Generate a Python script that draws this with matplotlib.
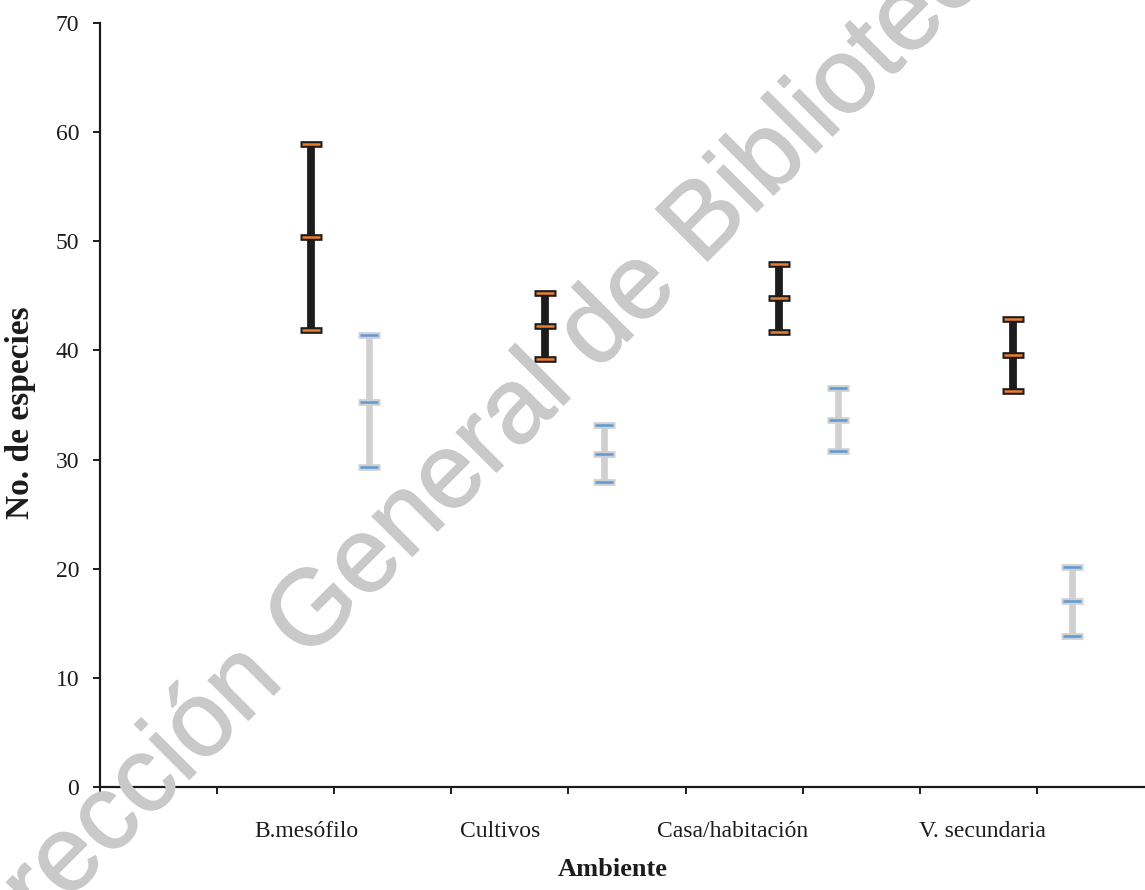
import matplotlib

matplotlib.use("Agg")
import matplotlib.pyplot as plt
import matplotlib.transforms as mtransforms
import matplotlib.patheffects as pe

# category labels and where the chart places them on the x axis (slot units)
CATEGORIES = ["B.mesófilo", "Cultivos", "Casa/habitación", "V. secundaria"]
LABEL_X = [1.76, 3.42, 5.40, 7.54]

# series 1 (black/orange) and series 2 (gray/blue): mean, low, high
BLACK_X = [1.80, 3.80, 5.80, 7.80]
BLACK_MID = [50.4, 42.2, 44.8, 39.6]
BLACK_LOW = [41.9, 39.2, 41.7, 36.3]
BLACK_HIGH = [58.9, 45.3, 47.9, 42.9]

GRAY_X = [2.30, 4.30, 6.30, 8.30]
GRAY_MID = [35.3, 30.5, 33.6, 17.0]
GRAY_LOW = [29.3, 27.9, 30.8, 13.8]
GRAY_HIGH = [41.4, 33.2, 36.6, 20.2]

SERIF = ["Liberation Serif", "DejaVu Serif"]
INK = "#1c1c1c"
ORANGE = "#ed7d31"
BLUE = "#5b9bd5"
LIGHT = "#d0d0d0"


def draw_series(ax, xs, lo, mid, hi, bar_color, cap_color, line_color, bar_w):
    ax.vlines(xs, lo, hi, colors=bar_color, linewidth=bar_w, zorder=3,
              capstyle="butt")
    for vals in (lo, mid, hi):
        ax.plot(xs, vals, linestyle="none", marker="_", markersize=15.5,
                markeredgewidth=4.8, color=cap_color, zorder=4)
        ax.plot(xs, vals, linestyle="none", marker="_", markersize=12.5,
                markeredgewidth=1.8, color=line_color, zorder=5)


fig = plt.figure(figsize=(11.45, 8.9), dpi=100)
ax = fig.add_axes([100 / 1145, 1 - 787 / 890, 1045 / 1145, 764 / 890])

draw_series(ax, BLACK_X, BLACK_LOW, BLACK_MID, BLACK_HIGH, INK, INK, ORANGE, 5.6)
draw_series(ax, GRAY_X, GRAY_LOW, GRAY_MID, GRAY_HIGH, LIGHT, LIGHT, BLUE, 4.8)

ax.set_xlim(0, 1045 / 117.1)
ax.set_ylim(0, 70)
ax.set_yticks(range(0, 71, 10))
ax.set_xticks(range(0, 9))
ax.set_xticklabels([])
for s in ("top", "right"):
    ax.spines[s].set_visible(False)
for s in ("left", "bottom"):
    ax.spines[s].set_linewidth(1.6)
    ax.spines[s].set_color(INK)
ax.tick_params(axis="both", direction="out", length=5, width=1.4, color=INK)
ax.tick_params(axis="y", pad=10, labelsize=17, labelcolor=INK)
for lab in ax.get_yticklabels():
    lab.set_family(SERIF)

trans = mtransforms.blended_transform_factory(ax.transData, ax.transAxes)
for x, name in zip(LABEL_X, CATEGORIES):
    ax.text(x, -0.0654, name, transform=trans, ha="center", va="baseline",
            fontsize=17, family=SERIF, color=INK)

fig.text(613 / 1145, 1 - 869 / 890, "Ambiente", ha="center", va="center",
         fontsize=19, fontweight="bold", family=SERIF, color=INK)
fig.text(21 / 1145, 1 - 413 / 890, "No. de especies", ha="center", va="center",
         rotation=90, fontsize=24, fontweight="bold", family=SERIF, color=INK)

# watermark of the source scan
wm = fig.text(499 / 1145, 1 - 430 / 890, "Dirección General de Bibliotecas",
              ha="center", va="center", rotation=45, rotation_mode="anchor",
              fontsize=77, family=["Liberation Sans", "DejaVu Sans"],
              color="#c9c9c9", zorder=10)
wm.set_path_effects([pe.withStroke(linewidth=1.0, foreground="#c9c9c9")])

fig.savefig("out.png", dpi=100)
